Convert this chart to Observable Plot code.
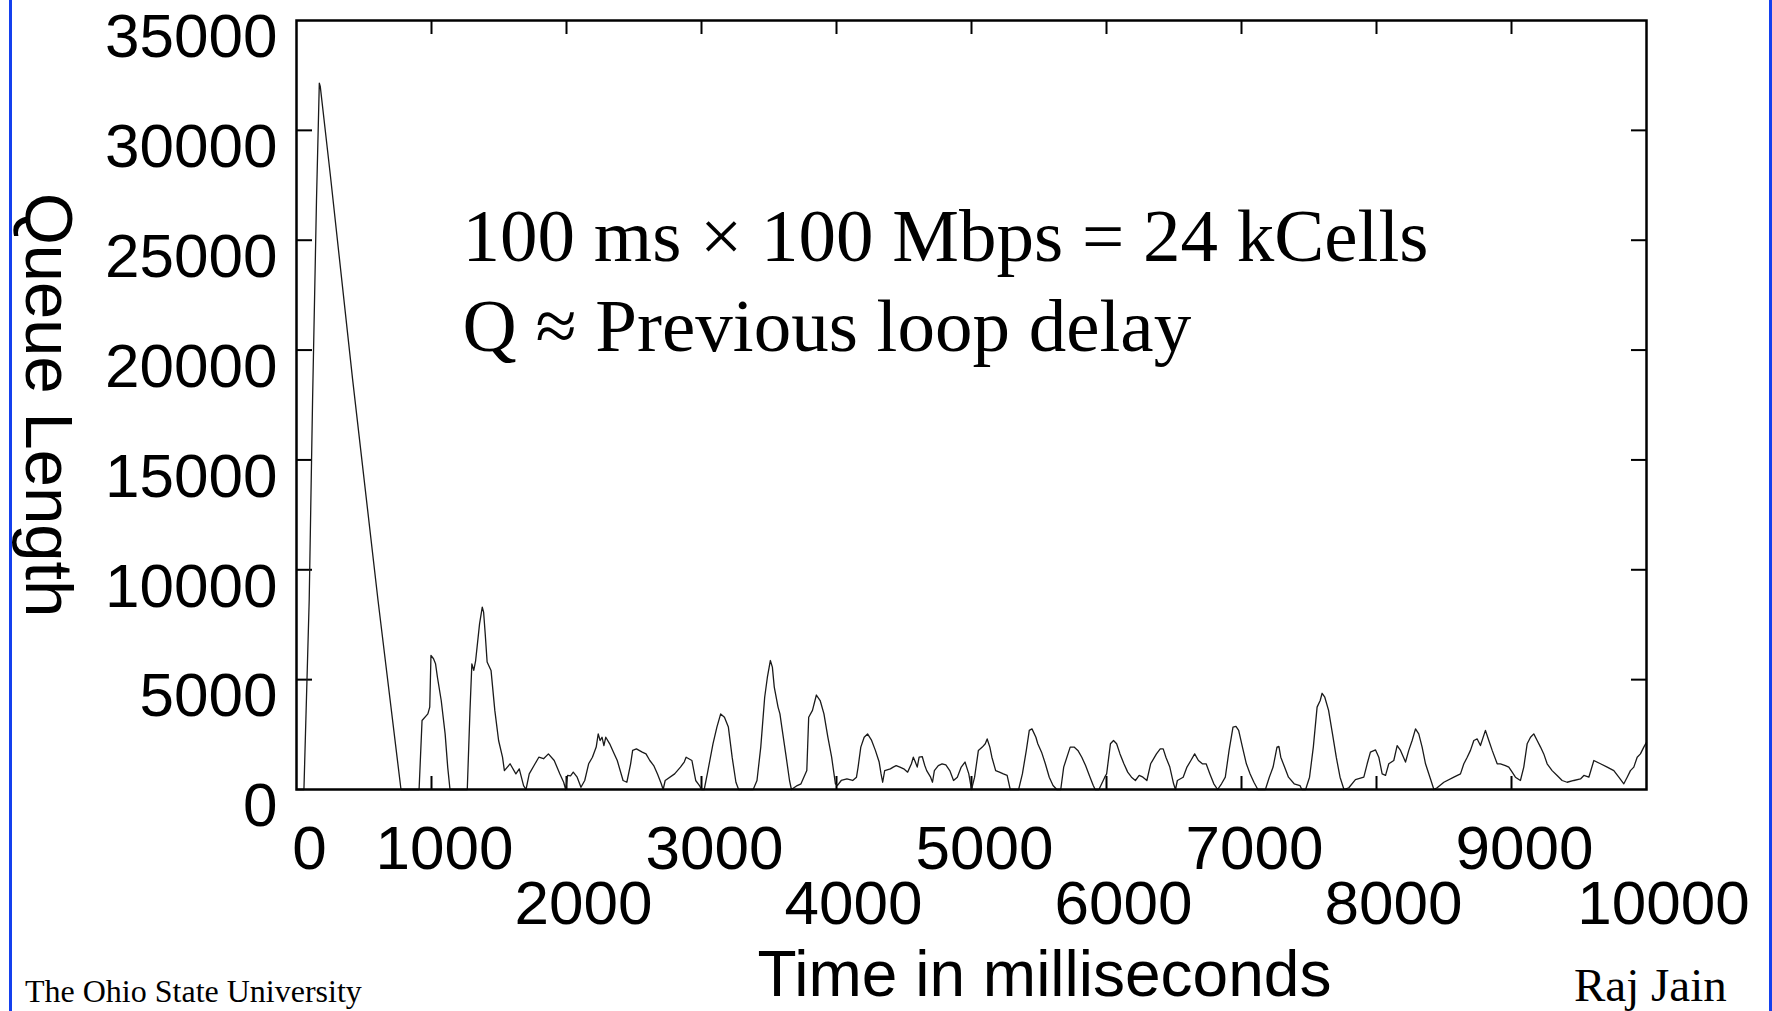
<!DOCTYPE html>
<html>
<head>
<meta charset="utf-8">
<script src="https://cdn.jsdelivr.net/npm/d3@7"></script>
<script src="https://cdn.jsdelivr.net/npm/@observablehq/plot@0.6"></script>
<style>
  html, body { margin: 0; padding: 0; background: #fff; }
  #slide { position: relative; width: 1772px; height: 1011px; overflow: hidden; background: #fff; }
  .bar { position: absolute; top: 0; width: 3px; height: 1011px; background: #1440ee; }
  .foot { position: absolute; font-family: "Liberation Serif", "Times New Roman", serif; line-height: 1; color: #000; white-space: nowrap; }
</style>
</head>
<body>
<div id="slide">
  <div id="chart"></div>
  <div class="bar" style="left:9px"></div>
  <div class="bar" style="left:1769px"></div>
  <div class="foot" style="left:25px; top:975px; font-size:32px;">The Ohio State University</div>
  <div class="foot" style="left:1574px; top:962px; font-size:47px;">Raj Jain</div>
</div>
<script>
// Time (ms) of each reading
const times = [
  0, 55, 94, 119, 148, 169, 176, 250, 415, 604, 774,
  908, 930, 973, 987, 996, 1015, 1030, 1044, 1072, 1101, 1120, 1137,
  1265, 1285, 1299, 1313, 1327, 1356, 1376, 1386, 1398, 1412, 1441, 1469, 1497, 1526, 1540, 1582, 1625, 1650, 1682,
  1700, 1724, 1767, 1795, 1830, 1866, 1909, 1951, 1979, 1994, 2008, 2030, 2050, 2079, 2107,
  2135, 2164, 2192, 2220, 2235, 2249, 2263, 2277, 2291, 2320, 2348, 2376, 2419, 2447,
  2475, 2490, 2518, 2561, 2589, 2617, 2646, 2674, 2702, 2716,
  2731, 2801, 2844, 2872, 2886, 2929, 2957, 2985, 3000, 3020,
  3043, 3085, 3114, 3142, 3170, 3199, 3227, 3255, 3275,
  3383, 3411, 3439, 3468, 3488, 3510, 3525, 3539, 3567, 3581, 3595, 3624, 3652, 3666,
  3709, 3737, 3780, 3794, 3822, 3851, 3879, 3907, 3936, 3964, 3992,
  4006, 4035, 4077, 4120, 4148, 4160, 4180, 4205, 4230, 4258, 4288, 4316, 4330, 4342,
  4357, 4399, 4420, 4442, 4470, 4498, 4527, 4555, 4569, 4584, 4598, 4612, 4635, 4654, 4668, 4697, 4711,
  4725, 4754, 4782, 4810, 4839, 4867, 4895, 4924, 4952, 4980, 5000,
  5023, 5051, 5080, 5102, 5116, 5136, 5151, 5179, 5207, 5236, 5264, 5287,
  5349, 5377, 5406, 5428, 5448, 5477, 5491, 5519, 5547, 5576, 5604, 5632,
  5661, 5683, 5731, 5760, 5788, 5817, 5845, 5873, 5902, 5916,
  5944, 5987, 6001, 6029, 6052, 6075, 6100, 6129, 6157, 6185, 6214, 6242, 6270, 6299,
  6327, 6370, 6398, 6420, 6440, 6469, 6497, 6511,
  6525, 6568, 6596, 6625, 6653, 6681, 6710, 6738, 6766, 6795, 6823,
  6852, 6880, 6908, 6937, 6959, 6979, 7007, 7036, 7064, 7092, 7121,
  7177, 7206, 7234, 7263, 7277, 7291, 7319, 7348, 7390, 7433, 7447,
  7475, 7504, 7532, 7560, 7583, 7597, 7617, 7645, 7674, 7702, 7730, 7759,
  7795, 7844, 7906, 7931, 7955, 7993, 8017, 8042, 8067, 8091, 8128, 8153, 8178, 8215,
  8239, 8264, 8289, 8313, 8338, 8363, 8400, 8425,
  8449, 8499, 8573, 8622, 8647, 8672, 8696, 8721, 8746, 8770, 8807, 8832, 8857, 8894, 8918, 8955, 8980, 9005, 9029, 9066,
  9091, 9116, 9141, 9165, 9190, 9215, 9239, 9264, 9301, 9338, 9375, 9412, 9462, 9511, 9536, 9573,
  9610, 9659, 9709, 9758, 9795, 9832, 9857, 9881, 9906, 9931, 9955, 9980, 10000
];
// Queue length (cells) at each reading
const queue = [
  0, 0, 8600, 17700, 26800, 32150, 32000, 28000, 18700, 8600, 0,
  0, 3140, 3440, 3750, 6100, 5950, 5720, 5110, 4050, 2530, 1020, 0,
  0, 3590, 5720, 5420, 5870, 7540, 8300, 8070, 7080, 5800, 5420, 3600, 2230, 1470, 860, 1170, 710, 940, 180,
  0, 710, 1170, 1470, 1400, 1620, 1320, 710, 330, 0, 640, 620, 790, 560, 100,
  410, 1170, 1470, 1930, 2530, 2230, 2380, 2000, 2380, 2080, 1700, 1320, 410, 330,
  1170, 1780, 1850, 1700, 1620, 1320, 1090, 710, 260, 0,
  410, 710, 1020, 1250, 1470, 1320, 410, 180, 0, 0,
  710, 2080, 2840, 3440, 3290, 2840, 1470, 330, 0,
  0, 410, 1930, 4200, 5110, 5870, 5570, 4660, 3750, 3440, 2840, 1620, 410, 0,
  180, 260, 860, 3290, 3600, 4300, 4050, 3440, 2380, 1470, 260,
  180, 410, 480, 410, 560, 1020, 1930, 2380, 2530, 2260, 1780, 1250, 710, 330,
  860, 940, 1020, 1090, 1020, 940, 790, 1170, 1470, 1250, 1020, 1470, 1500, 1090, 860, 560, 330,
  860, 1090, 1170, 1120, 860, 410, 560, 1020, 1250, 710, 0,
  560, 1780, 1930, 2080, 2300, 1930, 1470, 860, 790, 710, 640, 0,
  0, 710, 1780, 2690, 2760, 2380, 2080, 1700, 1170, 560, 180, 0,
  0, 1020, 1930, 1930, 1780, 1470, 1090, 640, 180, 0,
  0, 560, 710, 2080, 2230, 2080, 1620, 1170, 790, 560, 410, 640, 560, 410,
  1170, 1620, 1850, 1850, 1470, 1020, 260, 0,
  410, 560, 1020, 1320, 1620, 1320, 1170, 1170, 710, 260, 0,
  260, 560, 1780, 2840, 2870, 2690, 1930, 1170, 710, 330, 0,
  0, 560, 1020, 1930, 1960, 1470, 1020, 560, 260, 180, 0,
  0, 560, 1930, 3750, 4050, 4380, 4200, 3600, 2530, 1470, 560, 0,
  80, 450, 560, 1170, 1700, 1800, 1470, 710, 640, 1170, 1320, 2000, 1780, 1250,
  1780, 2230, 2760, 2530, 1930, 1170, 480, 0,
  80, 330, 560, 710, 1170, 1470, 1780, 2230, 2300, 2000, 2690, 2230, 1780, 1170, 1170, 1090, 1020, 790, 560, 410,
  1020, 2080, 2380, 2530, 2230, 1930, 1620, 1170, 860, 640, 410, 330, 410, 480, 640, 560,
  1320, 1170, 1020, 860, 560, 260, 560, 860, 1020, 1470, 1620, 1930, 2150
];
const xTicks = [1000, 2000, 3000, 4000, 5000, 6000, 7000, 8000, 9000];
const yTicks = [5000, 10000, 15000, 20000, 25000, 30000];
const xLabelsUpper = [0, 1000, 3000, 5000, 7000, 9000];
const xLabelsLower = [2000, 4000, 6000, 8000, 10000];
const yLabels = [0, 5000, 10000, 15000, 20000, 25000, 30000, 35000];
const xTitle = "Time in milliseconds";
const yTitle = "Queue Length";
const note = ["100 ms × 100 Mbps = 24 kCells\nQ ≈ Previous loop delay"];
const noteAt = {t: 1230, q: 27000};

const series = times.map((t, i) => ({t, q: queue[i]}));
const sans = "Liberation Sans, Arial, Helvetica, sans-serif";
const serif = "Liberation Serif, Times New Roman, serif";

const chart = Plot.plot({
  width: 1772,
  height: 1011,
  marginLeft: 296,
  marginRight: 126,
  marginTop: 20,
  marginBottom: 222,
  x: {domain: [0, 10000]},
  y: {domain: [0, 35000]},
  style: {fontFamily: sans, background: "transparent", color: "#000"},
  marks: [
    Plot.axisX({anchor: "bottom", ticks: xTicks, tickSize: -13, strokeWidth: 2, tickFormat: () => "", label: null}),
    Plot.axisX({anchor: "top", ticks: xTicks, tickSize: -13, strokeWidth: 2, tickFormat: () => "", label: null}),
    Plot.axisY({anchor: "left", ticks: yTicks, tickSize: -16, strokeWidth: 2, tickFormat: () => "", label: null}),
    Plot.axisY({anchor: "right", ticks: yTicks, tickSize: -16, strokeWidth: 2, tickFormat: () => "", label: null}),
    Plot.line(series, {x: "t", y: "q", stroke: "#1a1a1a", strokeWidth: 1.3}),
    Plot.frame({stroke: "#000", strokeWidth: 2.5}),
    Plot.text(yLabels, {y: d => d, text: d => String(d), frameAnchor: "left", textAnchor: "end", lineAnchor: "middle", dx: -19, dy: 17, fontSize: 62, fill: "#000"}),
    Plot.text(xLabelsUpper, {x: d => d, text: d => String(d), frameAnchor: "bottom", textAnchor: "middle", lineAnchor: "middle", dx: 13, dy: 60, fontSize: 62, fill: "#000"}),
    Plot.text(xLabelsLower, {x: d => d, text: d => String(d), frameAnchor: "bottom", textAnchor: "middle", lineAnchor: "middle", dx: 17, dy: 115, fontSize: 62, fill: "#000"}),
    Plot.text([xTitle], {text: d => d, frameAnchor: "bottom", textAnchor: "middle", lineAnchor: "middle", dx: 73, dy: 186, fontSize: 64, fill: "#000"}),
    Plot.text([yTitle], {text: d => d, frameAnchor: "left", textAnchor: "middle", lineAnchor: "middle", rotate: 90, dx: -249, fontSize: 67, fill: "#000"}),
    Plot.text(note, {x: () => noteAt.t, y: () => noteAt.q, text: d => d, textAnchor: "start", lineAnchor: "top", lineHeight: 1.21, fontSize: 75, fontFamily: serif, fill: "#000"})
  ]
});
document.getElementById("chart").appendChild(chart);
</script>
</body>
</html>
